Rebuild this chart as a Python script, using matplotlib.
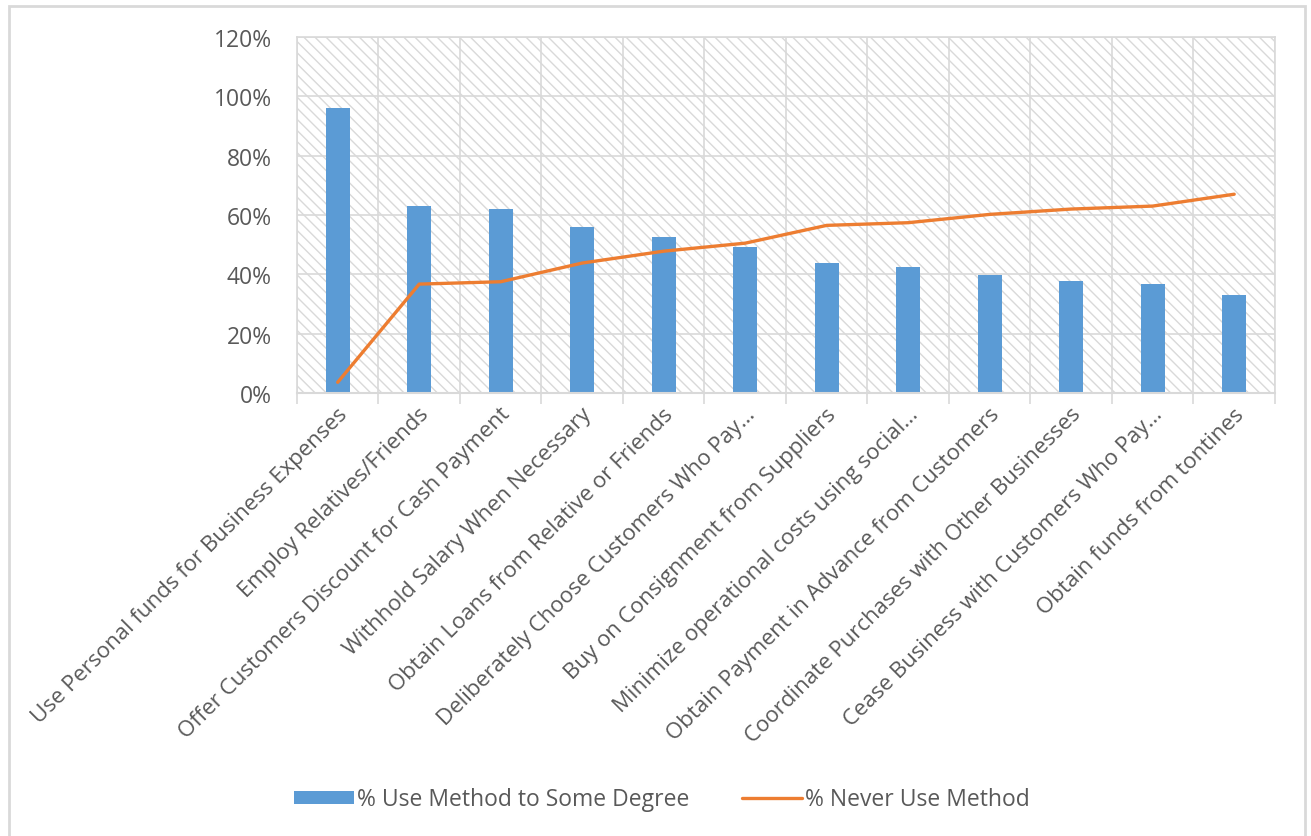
import numpy as np
import matplotlib.pyplot as plt
from matplotlib.patches import Rectangle
from matplotlib.ticker import PercentFormatter

# -------------------------------------------------
# Data
# -------------------------------------------------
methods = [
    "Use Personal funds for Business Expenses",
    "Employ Relatives/Friends",
    "Offer Customers Discount for Cash Payment",
    "Withhold Salary When Necessary",
    "Obtain Loans from Relative or Friends",
    "Deliberately Choose Customers Who Pay\u2026",
    "Buy on Consignment from Suppliers",
    "Minimize operational costs using social\u2026",
    "Obtain Payment in Advance from Customers",
    "Coordinate Purchases with Other Businesses",
    "Cease Business with Customers Who Pay\u2026",
    "Obtain funds from tontines",
]
use_some_degree = [96, 63, 62, 56, 52.5, 49.2, 43.8, 42.4, 39.8, 37.9, 36.9, 32.9]
never_use = [3.6, 36.7, 37.5, 43.8, 47.8, 50.5, 56.5, 57.4, 60.2, 62.0, 63.0, 67.0]

BLUE = "#5B9BD5"
ORANGE = "#ED7D31"
GRID = "#D9D9D9"
TEXT = "#595959"

plt.rcParams["font.family"] = ["Open Sans", "DejaVu Sans"]
plt.rcParams["hatch.linewidth"] = 1.0

fig = plt.figure(figsize=(13.11, 8.37), dpi=100)
ax = fig.add_axes([0.2265, 0.5293, 0.746, 0.4253])

x = np.arange(len(methods))

# hatched plot-area background
ax.add_patch(Rectangle((0, 0), 1, 1, transform=ax.transAxes, facecolor="white",
                       edgecolor="#D9D9D9", lw=0, hatch="\\\\\\", zorder=0))

# grid: horizontal at 20% steps, vertical at category boundaries
for yv in np.arange(20, 121, 20):
    ax.axhline(yv, color=GRID, lw=1.2, zorder=1)
for xv in np.arange(-0.5, len(methods) + 0.5):
    ax.axvline(xv, color=GRID, lw=1.2, zorder=1)

bars = ax.bar(x, use_some_degree, width=0.29, color=BLUE, zorder=2,
              label="% Use Method to Some Degree")
line, = ax.plot(x, never_use, color=ORANGE, lw=2.4, solid_joinstyle="round",
                solid_capstyle="round", zorder=3, label="% Never Use Method")

ax.set_xlim(-0.5, len(methods) - 0.5)
ax.set_ylim(0, 120)
ax.set_yticks(np.arange(0, 121, 20))
ax.yaxis.set_major_formatter(PercentFormatter(decimals=0))
ax.tick_params(axis="y", length=0, pad=18, labelsize=16.5, labelcolor=TEXT)

ax.set_xticks(np.arange(-0.5, len(methods) + 0.5))
ax.set_xticklabels([])
ax.tick_params(axis="x", direction="out", length=8, width=1.2, color=GRID)
for xi, lab in zip(x, methods):
    ax.text(xi + 0.08, -6, lab, rotation=45, rotation_mode="anchor",
            ha="right", va="center", fontsize=16, color=TEXT)

for side in ["top", "right", "left"]:
    ax.spines[side].set_color(GRID)
    ax.spines[side].set_linewidth(1.2)
ax.spines["bottom"].set_color(GRID)
ax.spines["bottom"].set_linewidth(1.5)

# legend
fig.legend([bars, line], [bars.get_label(), line.get_label()],
           loc="center", bbox_to_anchor=(0.505, 0.044), ncol=2, frameon=False,
           fontsize=16.5, labelcolor=TEXT, handlelength=2.6, handleheight=0.5,
           handletextpad=0.15, columnspacing=2.3)

# outer chart frame
fig.add_artist(Rectangle((0.0069, -0.02), 0.9886, 1.0116, transform=fig.transFigure,
                         facecolor="none", edgecolor=GRID, lw=2))

fig.savefig("out.png", dpi=100)
